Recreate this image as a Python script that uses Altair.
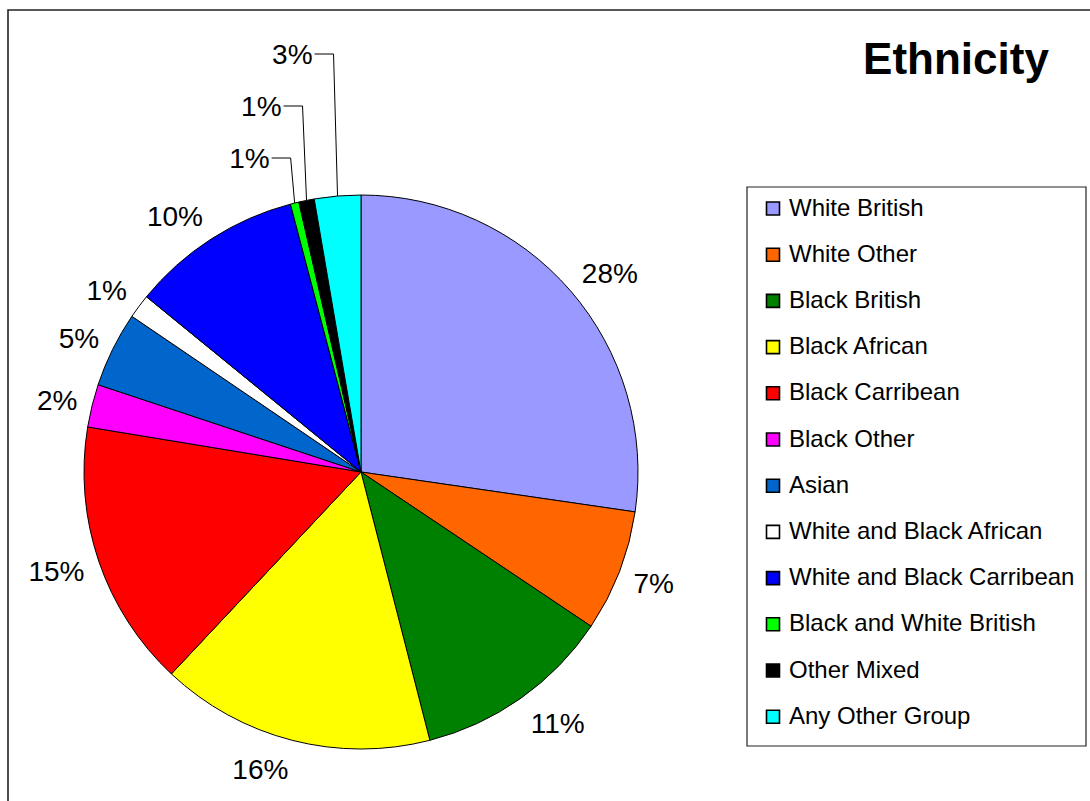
import math
import altair as alt
import pandas as pd

# ---------------- data ----------------
categories = [
    "White British", "White Other", "Black British", "Black African",
    "Black Carribean", "Black Other", "Asian", "White and Black African",
    "White and Black Carribean", "Black and White British", "Other Mixed",
    "Any Other Group",
]
shares = [27.3, 7.1, 11.6, 16.0, 15.6, 2.5, 4.4, 1.4, 10.0, 0.5, 0.9, 2.7]
labels = ["28%", "7%", "11%", "16%", "15%", "2%", "5%", "1%", "10%", "1%", "1%", "3%"]
colors = [
    "#9999FF", "#FF6600", "#008000", "#FFFF00", "#FF0000", "#FF00FF",
    "#0066CC", "#FFFFFF", "#0000FF", "#00FF00", "#000000", "#00FFFF",
]
callout_categories = ["Black and White British", "Other Mixed", "Any Other Group"]
title_text = "Ethnicity"

# ---------------- layout ----------------
W, H = 1090, 801
CX, CY = 361, 472          # pie centre
R = 277                    # pie radius
ANCHOR_R = R + 15          # anchor point of a label box, outside the pie
FS = 28                    # percentage label font size
LABEL_H = 28
CALLOUT_Y = {"Black and White British": 158, "Other Mixed": 106, "Any Other Group": 54}
FONT = "Liberation Sans"
CHAR_W = {"%": 0.889}      # Arial-like advance widths (em); digits 0.556


def text_width(s):
    return FS * sum(CHAR_W.get(ch, 0.556) for ch in s)


df = pd.DataFrame({
    "idx": list(range(len(categories))),
    "category": categories,
    "share": shares,
    "label": labels,
})

total = sum(shares)
cum = 0.0
label_rows, line_rows, callout_rows = [], [], []
for c, s, l in zip(categories, shares, labels):
    mid = (cum + s / 2) / total * 2 * math.pi
    cum += s
    sx, cy_ = math.sin(mid), -math.cos(mid)
    if c not in callout_categories:
        px = CX + ANCHOR_R * sx
        py = CY + ANCHOR_R * cy_
        w = text_width(l)
        lx = px + (w / 2 if sx >= 0 else -w / 2)
        ly = py + LABEL_H / 2 * cy_
        label_rows.append({"category": c, "label": l, "x": lx, "y": ly})
        continue
    ex = CX + R * sx
    ey = CY + R * cy_
    ly = CALLOUT_Y[c]
    kx = ex - 4
    line_rows += [
        {"category": c, "o": 0, "x": kx - 19, "y": ly},
        {"category": c, "o": 1, "x": kx, "y": ly},
        {"category": c, "o": 2, "x": ex, "y": ey},
    ]
    callout_rows.append({"category": c, "label": l, "x": kx - 21, "y": ly})

labels_df = pd.DataFrame(label_rows)
lines_df = pd.DataFrame(line_rows)
callout_df = pd.DataFrame(callout_rows)

xs = alt.Scale(domain=[0, W], nice=False, zero=False)
ys = alt.Scale(domain=[0, H], nice=False, zero=False, reverse=True)

one = pd.DataFrame({"t": [title_text]})

frame = alt.Chart(one).mark_rect(fill=None, stroke="#222222", strokeWidth=1.6).encode(
    x=alt.value(8), x2=alt.value(W + 20), y=alt.value(10), y2=alt.value(H + 20)
)

legend_box = alt.Chart(one).mark_rect(fill="white", stroke="#222222", strokeWidth=1.2).encode(
    x=alt.value(747), x2=alt.value(1086), y=alt.value(187), y2=alt.value(746)
)

pie = alt.Chart(df).mark_arc(radius=R, stroke="black", strokeWidth=1).encode(
    theta=alt.Theta("share:Q", stack=True),
    order=alt.Order("idx:Q"),
    color=alt.Color(
        "category:N",
        scale=alt.Scale(domain=categories, range=colors),
        legend=alt.Legend(
            title=None, orient="none", legendX=761, legendY=196.5,
            symbolType="square", symbolSize=169, symbolStrokeColor="black",
            symbolStrokeWidth=1.6, labelFontSize=24, labelFont=FONT,
            labelColor="black", rowPadding=22.2, labelOffset=4, padding=0,
            labelLimit=400,
        ),
    ),
    x=alt.value(CX), y=alt.value(CY),
)

pct = alt.Chart(labels_df).mark_text(fontSize=FS, font=FONT, color="black",
                                     align="center", baseline="middle", dy=3).encode(
    x=alt.X("x:Q", scale=xs, axis=None),
    y=alt.Y("y:Q", scale=ys, axis=None),
    text="label:N",
)

leaders = alt.Chart(lines_df).mark_line(color="black", strokeWidth=1).encode(
    x=alt.X("x:Q", scale=xs, axis=None),
    y=alt.Y("y:Q", scale=ys, axis=None),
    detail="category:N",
    order="o:Q",
)

callouts = alt.Chart(callout_df).mark_text(fontSize=FS, font=FONT, color="black",
                                           align="right", baseline="middle", dy=2).encode(
    x=alt.X("x:Q", scale=xs, axis=None),
    y=alt.Y("y:Q", scale=ys, axis=None),
    text="label:N",
)

title = alt.Chart(one).mark_text(fontSize=44, font=FONT, fontWeight="bold", color="black",
                                 align="center", baseline="middle").encode(
    x=alt.value(956), y=alt.value(61), text="t:N"
)

chart = alt.layer(frame, legend_box, pie, pct, leaders, callouts, title).properties(
    width=W, height=H, padding=0, autosize="none", background="white"
).configure_view(stroke=None)

chart.save("out.html", embed_options={"renderer": "svg", "actions": False})
